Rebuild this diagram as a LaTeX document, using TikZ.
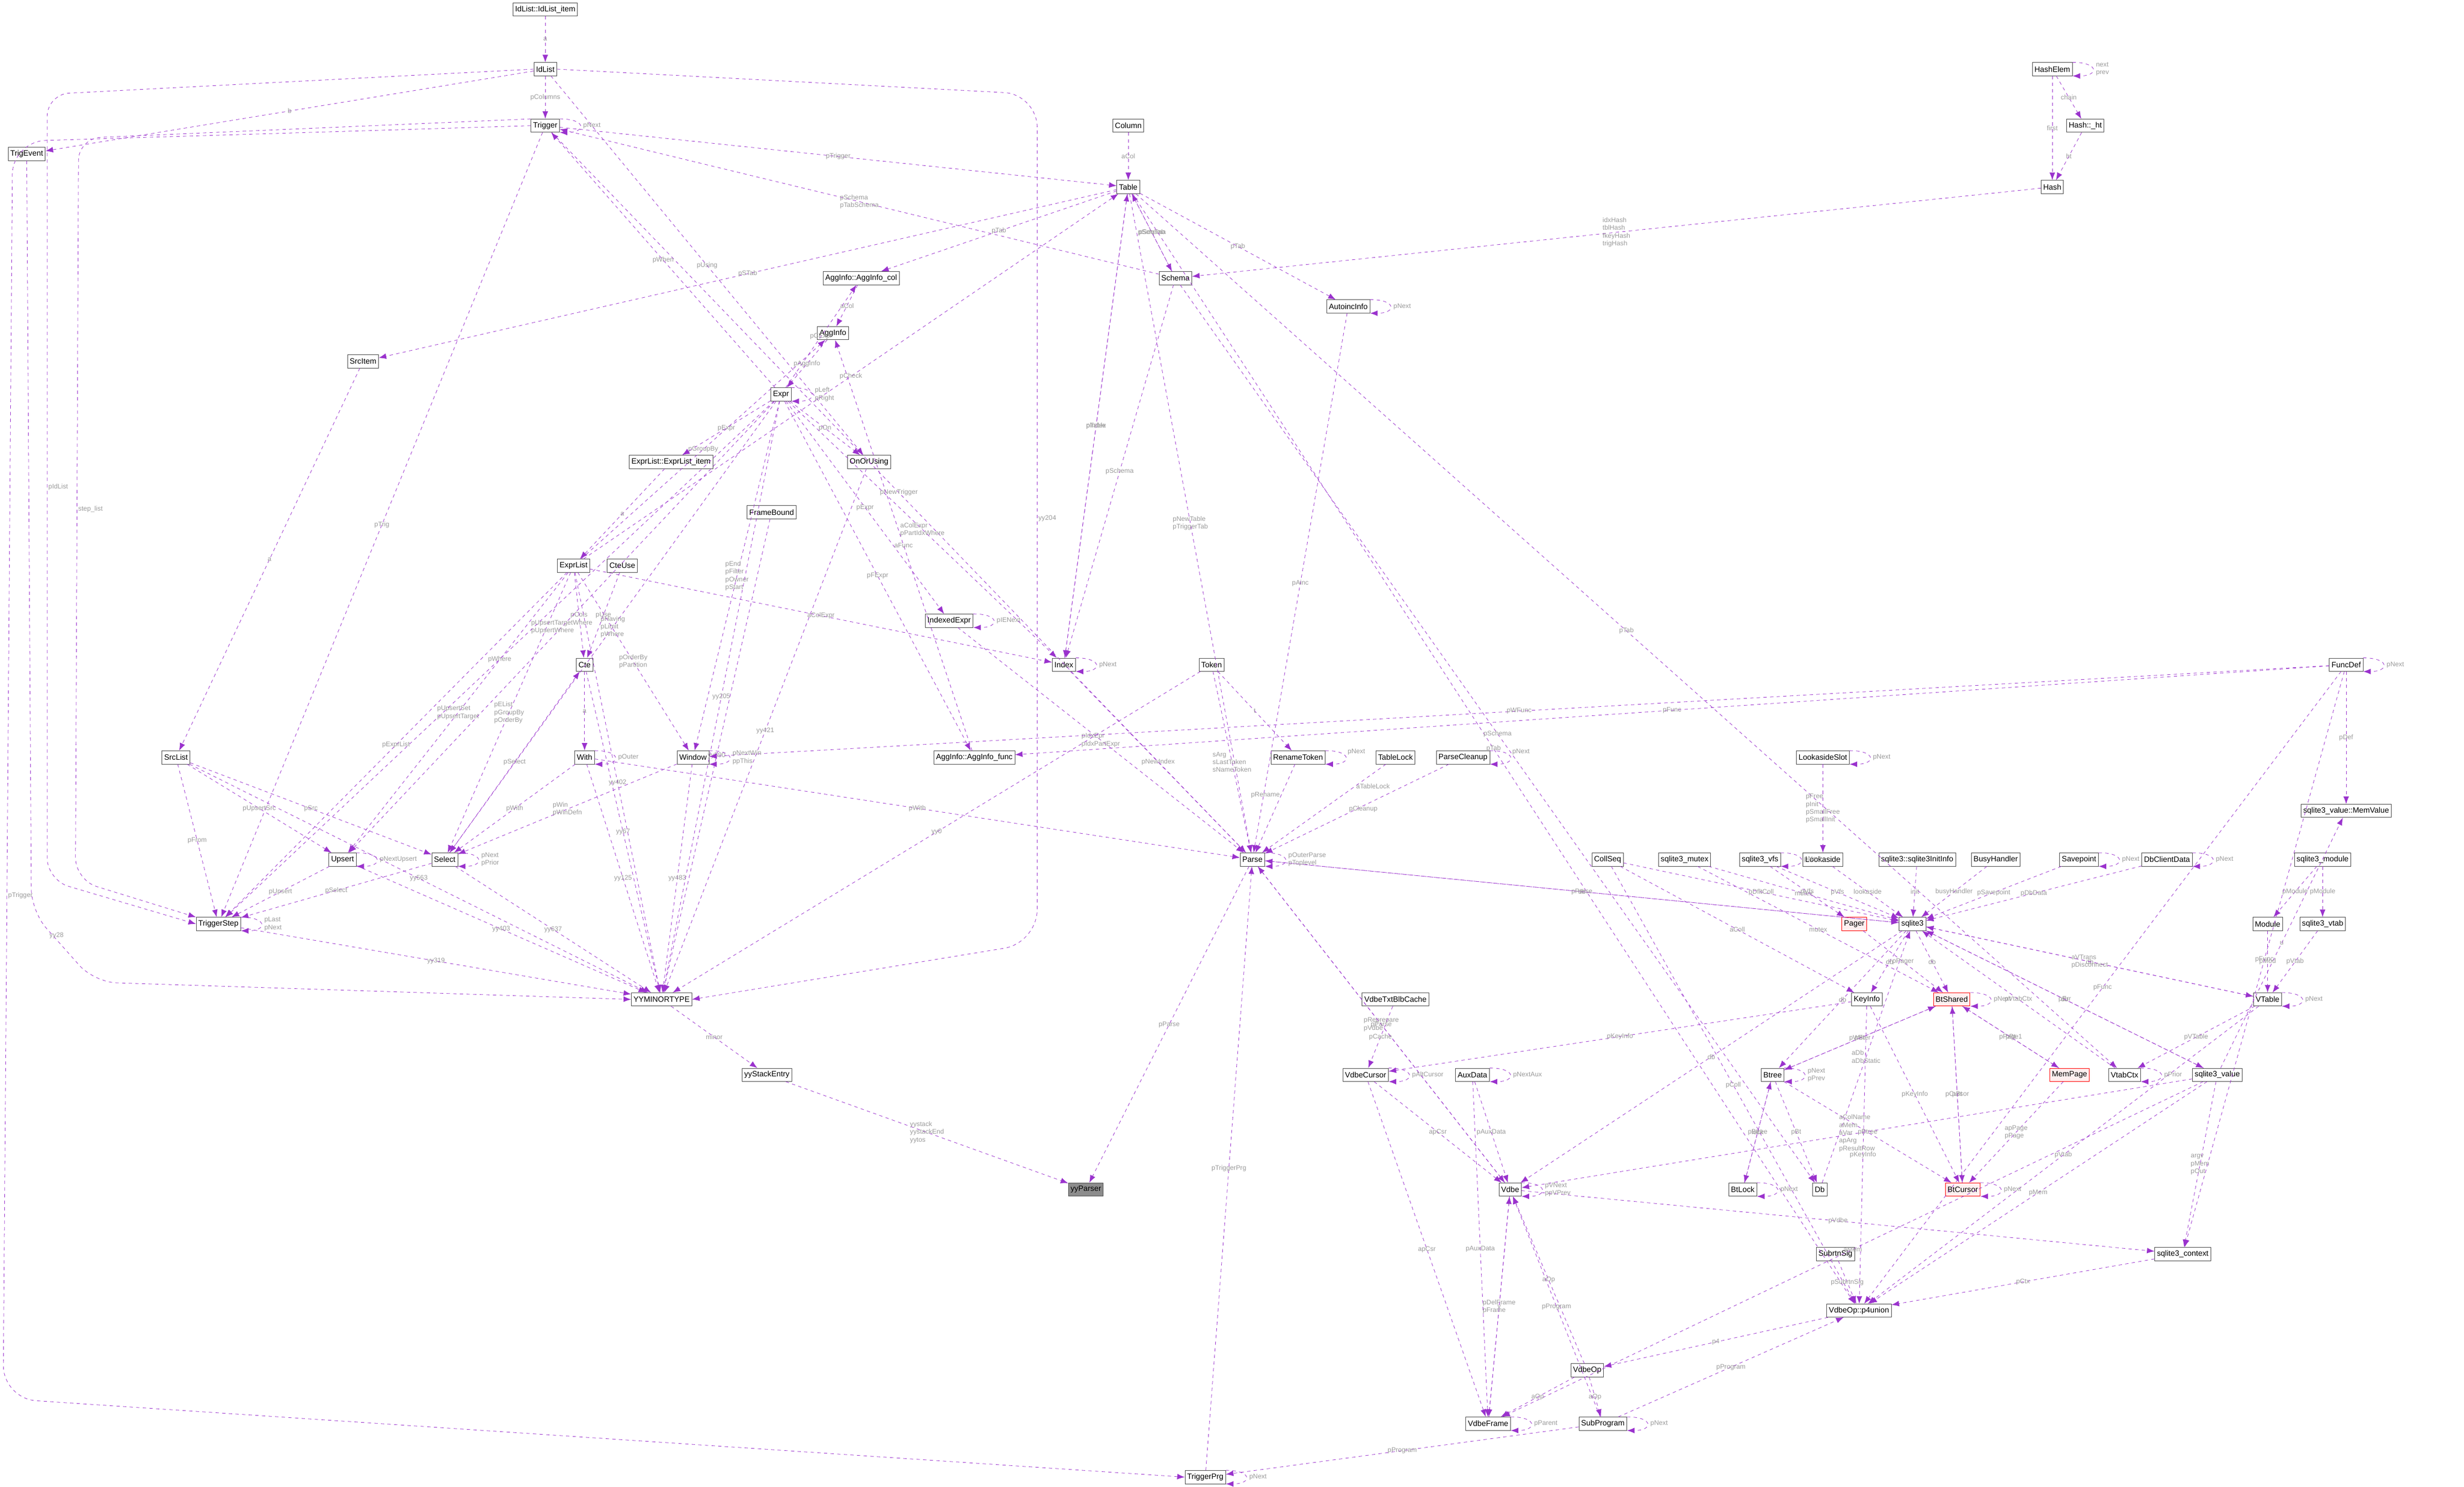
\documentclass[tikz,border=0pt]{standalone}
\usepackage{fontspec}
\setmainfont{Liberation Sans}
\usetikzlibrary{calc, arrows.meta}
\definecolor{collpurple}{HTML}{9A32CD}
\definecolor{labelgrey}{HTML}{9A9A9A}
\tikzstyle{cls} = [draw=black!70, fill=white, font=\fontsize{7}{8}\selectfont, inner sep=2pt, minimum height=0.42cm]
\tikzstyle{redcls} = [cls, draw=red, fill=red!6]
\tikzstyle{rootcls} = [cls, fill=black!45]
\tikzstyle{coll} = [collpurple, dashed, thin, -{Latex[length=2.4mm,width=1.8mm]}]
\tikzstyle{lbl} = [font=\fontsize{6}{7}\selectfont, text=labelgrey, align=left, inner sep=1pt]
\tikzstyle{selfloop} = [coll, out=0, in=0, looseness=5]

\begin{document}
\begin{tikzpicture}[x=0.05cm, y=-0.05cm]
 		\useasboundingbox (0,0) rectangle (1568,946);
 		% classes
 		\node[cls] (IdListItem) at (347,6) {IdList::IdList\_item};
 		\node[cls] (IdList) at (347,44) {IdList};
 		\node[cls] (Trigger) at (347,80) {Trigger};
 		\node[cls] (TrigEvent) at (17,98) {TrigEvent};
 		\node[cls] (Column) at (718,80) {Column};
 		\node[cls] (Table) at (718,119) {Table};
 		\node[cls] (HashElem) at (1306,44) {HashElem};
 		\node[cls] (HashHt) at (1327,80) {Hash::\_ht};
 		\node[cls] (Hash) at (1306,119) {Hash};
 		\node[cls] (Schema) at (748,177) {Schema};
 		\node[cls] (AggInfoCol) at (548,177) {AggInfo::AggInfo\_col};
 		\node[cls] (AutoincInfo) at (858,195) {AutoincInfo};
 		\node[cls] (SrcItem) at (231,230) {SrcItem};
 		\node[cls] (AggInfo) at (530,212) {AggInfo};
 		\node[cls] (Expr) at (497,251) {Expr};
 		\node[cls] (ExprListItem) at (427,294) {ExprList::ExprList\_item};
 		\node[cls] (OnOrUsing) at (553,294) {OnOrUsing};
 		\node[cls] (FrameBound) at (491,326) {FrameBound};
 		\node[cls] (ExprList) at (365,360) {ExprList};
 		\node[cls] (CteUse) at (396,360) {CteUse};
 		\node[cls] (IndexedExpr) at (604,395) {IndexedExpr};
 		\node[cls] (Index) at (677,423) {Index};
 		\node[cls] (Token) at (771,423) {Token};
 		\node[cls] (FuncDef) at (1493,423) {FuncDef};
 		\node[cls] (Cte) at (372,423) {Cte};
 		\node[cls] (SrcList) at (112,482) {SrcList};
 		\node[cls] (With) at (372,482) {With};
 		\node[cls] (Window) at (441,482) {Window};
 		\node[cls] (AggInfoFunc) at (620,482) {AggInfo::AggInfo\_func};
 		\node[cls] (RenameToken) at (826,482) {RenameToken};
 		\node[cls] (TableLock) at (888,482) {TableLock};
 		\node[cls] (ParseCleanup) at (931,482) {ParseCleanup};
 		\node[cls] (LookasideSlot) at (1160,482) {LookasideSlot};
 		\node[cls] (MemValue) at (1493,516) {sqlite3\_value::MemValue};
 		\node[cls] (Upsert) at (218,547) {Upsert};
 		\node[cls] (Select) at (283,547) {Select};
 		\node[cls] (Parse) at (797,547) {Parse};
 		\node[cls] (CollSeq) at (1023,547) {CollSeq};
 		\node[cls] (Mutex) at (1072,547) {sqlite3\_mutex};
 		\node[cls] (Vfs) at (1120,547) {sqlite3\_vfs};
 		\node[cls] (Lookaside) at (1160,547) {Lookaside};
 		\node[cls] (InitInfo) at (1220,547) {sqlite3::sqlite3InitInfo};
 		\node[cls] (BusyHandler) at (1270,547) {BusyHandler};
 		\node[cls] (Savepoint) at (1323,547) {Savepoint};
 		\node[cls] (DbClientData) at (1379,547) {DbClientData};
 		\node[cls] (Sqlite3Module) at (1478,547) {sqlite3\_module};
 		\node[cls] (TriggerStep) at (139,588) {TriggerStep};
 		\node[redcls] (Pager) at (1180,588) {Pager};
 		\node[cls] (Sqlite3) at (1217,588) {sqlite3};
 		\node[cls] (Module) at (1443,588) {Module};
 		\node[cls] (Sqlite3Vtab) at (1478,588) {sqlite3\_vtab};
 		\node[cls] (YYMinorType) at (421,636) {YYMINORTYPE};
 		\node[cls] (TxtBlbCache) at (888,636) {VdbeTxtBlbCache};
 		\node[cls] (KeyInfo) at (1188,636) {KeyInfo};
 		\node[redcls] (BtShared) at (1242,636) {BtShared};
 		\node[cls] (VTable) at (1443,636) {VTable};
 		\node[cls] (YYStackEntry) at (488,684) {yyStackEntry};
 		\node[cls] (VdbeCursor) at (869,684) {VdbeCursor};
 		\node[cls] (AuxData) at (937,684) {AuxData};
 		\node[cls] (Btree) at (1128,684) {Btree};
 		\node[redcls] (MemPage) at (1317,684) {MemPage};
 		\node[cls] (VtabCtx) at (1352,684) {VtabCtx};
 		\node[cls] (Sqlite3Value) at (1411,684) {sqlite3\_value};
 		\node[rootcls] (YYParser) at (691,757) {yyParser};
 		\node[cls] (Vdbe) at (961,757) {Vdbe};
 		\node[cls] (BtLock) at (1109,757) {BtLock};
 		\node[cls] (Db) at (1158,757) {Db};
 		\node[redcls] (BtCursor) at (1249,757) {BtCursor};
 		\node[cls] (Sqlite3Context) at (1389,798) {sqlite3\_context};
 		\node[cls] (SubrtnSig) at (1168,798) {SubrtnSig};
 		\node[cls] (P4Union) at (1183,834) {VdbeOp::p4union};
 		\node[cls] (VdbeOp) at (1010,872) {VdbeOp};
 		\node[cls] (VdbeFrame) at (947,906) {VdbeFrame};
 		\node[cls] (SubProgram) at (1020,906) {SubProgram};
 		\node[cls] (TriggerPrg) at (767,940) {TriggerPrg};
 		% collaboration links
 		\foreach \src/\dst/\txt in {
 			IdListItem/IdList/a, IdList/Trigger/pColumns, IdList/TrigEvent/b,
 			IdList/OnOrUsing/pUsing,
 			Trigger/Table/pTrigger, Trigger/TriggerStep/pTrig,
 			Trigger/Parse/pNewTrigger, Expr/Trigger/pWhen, Schema/Trigger/{pSchema\\pTabSchema},
 			Column/Table/aCol, Table/SrcItem/pSTab,
 			Table/Index/pTable, Index/Table/pIndex, Table/Schema/pSeqTab, Schema/Table/pSchema,
 			Table/AggInfoCol/pTab, Table/Parse/{pNewTable\\pTriggerTab}, Table/AutoincInfo/pTab,
 			Table/VtabCtx/pTab, Table/P4Union/pTab, ExprList/Table/pCheck,
 			Hash/Schema/{idxHash\\tblHash\\fkeyHash\\trigHash}, HashElem/Hash/first,
 			HashElem/HashHt/chain, HashHt/Hash/ht, Schema/Index/pSchema, Schema/Db/pSchema,
 			AutoincInfo/Parse/pAinc, AggInfoCol/AggInfo/aCol, Expr/AggInfoCol/pCExpr,
 			AggInfo/Expr/pAggInfo, ExprList/AggInfo/pGroupBy, Expr/ExprListItem/pExpr,
 			ExprListItem/ExprList/a, Expr/OnOrUsing/pOn, Expr/Window/{pEnd\\pFilter\\pOwner\\pStart},
 			Expr/IndexedExpr/pExpr, IndexedExpr/Parse/{pIdxEpr\\pIdxPartExpr},
 			Expr/AggInfoFunc/pFExpr, AggInfoFunc/AggInfo/aFunc, Expr/Index/{aColExpr\\pPartIdxWhere},
 			ExprList/Index/aColExpr, ExprList/Cte/pCols, CteUse/Cte/pUse, Cte/With/a,
 			With/Select/pWith, With/Parse/pWith, Select/Cte/pSelect, Select/TriggerStep/pSelect,
 			ExprList/Select/{pEList\\pGroupBy\\pOrderBy}, Expr/Select/{pHaving\\pLimit\\pWhere},
 			SrcList/Select/pSrc, Window/Select/{pWin\\pWinDefn}, ExprList/Window/{pOrderBy\\pPartition},
 			SrcItem/SrcList/a, SrcList/TriggerStep/pFrom, SrcList/Upsert/pUpsertSrc,
 			Upsert/TriggerStep/pUpsert, ExprList/Upsert/{pUpsertSet\\pUpsertTarget},
 			Expr/Upsert/{pUpsertTargetWhere\\pUpsertWhere}, ExprList/TriggerStep/pExprList,
 			Expr/TriggerStep/pWhere, TriggerStep/YYMinorType/yy319, Upsert/YYMinorType/yy403,
 			Select/YYMinorType/yy637, Cte/YYMinorType/yy67, With/YYMinorType/yy125,
 			Window/YYMinorType/yy483, Expr/YYMinorType/yy205, ExprList/YYMinorType/yy402,
 			SrcList/YYMinorType/yy563, Token/YYMinorType/yy0,
 			OnOrUsing/YYMinorType/yy421, FrameBound/YYMinorType/yy590,
 			YYMinorType/YYStackEntry/minor, YYStackEntry/YYParser/{yystack\\yystackEnd\\yytos},
 			Parse/YYParser/pParse, Token/Parse/{sArg\\sLastToken\\sNameToken}, Token/RenameToken/t,
 			Index/Parse/pNewIndex, Sqlite3/Parse/db, Parse/Sqlite3/pParse,
 			Vdbe/Parse/{pReprepare\\pVdbe}, Parse/Vdbe/pParse, TriggerPrg/Parse/pTriggerPrg,
 			FuncDef/Window/pWFunc, FuncDef/AggInfoFunc/pFunc,
 			CollSeq/Sqlite3/pDfltColl, Mutex/Sqlite3/mutex, Vfs/Sqlite3/pVfs,
 			Lookaside/Sqlite3/lookaside, LookasideSlot/Lookaside/{pFree\\pInit\\pSmallFree\\pSmallInit},
 			InitInfo/Sqlite3/init, BusyHandler/Sqlite3/busyHandler, Savepoint/Sqlite3/pSavepoint,
 			DbClientData/Sqlite3/pDbData, Db/Sqlite3/{aDb\\aDbStatic}, Sqlite3/Vdbe/db,
 			Sqlite3/BtShared/db, Sqlite3/KeyInfo/db, Sqlite3/Btree/db, Sqlite3/VTable/db,
 			VtabCtx/Sqlite3/pVtabCtx, Sqlite3/Sqlite3Value/db, VTable/Sqlite3/{aVTrans\\pDisconnect},
 			Sqlite3Value/Sqlite3/pErr, Pager/BtShared/pPager, Mutex/BtShared/mutex, Vfs/Pager/pVfs,
 			KeyInfo/VdbeCursor/pKeyInfo, KeyInfo/BtCursor/pKeyInfo, KeyInfo/P4Union/pKeyInfo,
 			CollSeq/KeyInfo/aColl, BtShared/Btree/pBt, BtShared/MemPage/pBt, MemPage/BtShared/pPage1,
 			BtShared/BtCursor/pBt, BtCursor/BtShared/pCursor, Btree/BtShared/pWriter,
 			Btree/BtLock/pBtree, BtLock/Btree/lock, Btree/Db/pBt, Btree/BtCursor/pBtree,
 			MemPage/BtCursor/{apPage\\pPage}, Module/VTable/pMod, Sqlite3Vtab/VTable/pVtab,
 			Sqlite3Module/Module/pModule, Sqlite3Module/Sqlite3Vtab/pModule, VTable/VtabCtx/pVTable,
 			Sqlite3Value/MemValue/u, FuncDef/MemValue/pDef, FuncDef/Sqlite3Context/pFunc,
 			FuncDef/P4Union/pFunc, Sqlite3Value/Sqlite3Context/{argv\\pMem\\pOut},
 			Sqlite3Value/Vdbe/{aColName\\aMem\\aVar\\apArg\\pResultRow}, Sqlite3Value/VdbeFrame/aMem,
 			Sqlite3Value/P4Union/pMem, Vdbe/Sqlite3Context/pVdbe, Sqlite3Context/P4Union/pCtx,
 			VTable/P4Union/pVtab, CollSeq/P4Union/pColl, SubrtnSig/P4Union/pSubrtnSig,
 			P4Union/VdbeOp/p4, SubProgram/P4Union/pProgram, TxtBlbCache/VdbeCursor/pCache,
 			VdbeCursor/Vdbe/apCsr, VdbeCursor/VdbeFrame/apCsr, AuxData/Vdbe/pAuxData,
 			AuxData/VdbeFrame/pAuxData, Vdbe/VdbeFrame/v, VdbeFrame/Vdbe/{pDelFrame\\pFrame},
 			VdbeOp/Vdbe/aOp, VdbeOp/VdbeFrame/aOp, VdbeOp/SubProgram/aOp, SubProgram/Vdbe/pProgram,
 			SubProgram/TriggerPrg/pProgram}
 			\draw[coll] (\src) -- node[lbl] {\txt} (\dst);
 		% links whose labels need their own place
 		\draw[coll] (RenameToken) -- node[lbl, left, pos=0.35] {pRename} (Parse);
 		\draw[coll] (TableLock) -- node[lbl, right, pos=0.25] {aTableLock} (Parse);
 		\draw[coll] (ParseCleanup) -- node[lbl, above right, pos=0.55] {pCleanup} (Parse);
 		% long links routed round the left side
 		\draw[coll, rounded corners=30pt] (Trigger.west) -- (8,90) -- node[lbl, right, pos=0.6] {pTrigger} (2,890) -- (TriggerPrg.west);
 		\draw[coll, rounded corners=20pt] (IdList.west) -- (30,60) -- node[lbl, right, pos=0.5] {pIdList} (30,560) -- (TriggerStep.west);
 		\draw[coll, rounded corners=20pt] (TrigEvent.south) -- (20,580) -- node[lbl, above, pos=0.4] {yy28} (60,625) -- (YYMinorType.west);
 		\draw[coll, rounded corners=20pt] (Trigger.north west) -- (50,88) -- node[lbl, right, pos=0.5] {step\_list} (48,560) -- (TriggerStep.north west);
 		\draw[coll, rounded corners=30pt] (IdList.east) -- (660,60) -- node[lbl, right, pos=0.5] {yy204} (660,600) -- (YYMinorType.east);
 		% self references
 		\foreach \self/\txt in {Trigger/pNext, HashElem/{next\\prev}, AutoincInfo/pNext,
 			Expr/{pLeft\\pRight}, IndexedExpr/pIENext, Index/pNext, With/pOuter,
 			Window/{pNextWin\\ppThis}, Select/{pNext\\pPrior}, Upsert/pNextUpsert,
 			TriggerStep/{pLast\\pNext}, Parse/{pOuterParse\\pToplevel},
 			LookasideSlot/pNext, Vfs/pNext, Savepoint/pNext,
 			DbClientData/pNext, FuncDef/pNext, BtShared/pNext, Btree/{pNext\\pPrev},
 			BtLock/pNext, BtCursor/pNext, VTable/pNext, VtabCtx/pPrior, VdbeCursor/pAltCursor,
 			AuxData/pNextAux, Vdbe/{pVNext\\ppVPrev}, VdbeFrame/pParent, SubProgram/pNext,
 			TriggerPrg/pNext}
 			\draw[selfloop] (\self.north east) to node[lbl, right=2pt] {\txt} (\self.south east);
 		\draw[selfloop] (RenameToken.north east) to node[lbl, above right=1pt] {pNext} (RenameToken.south east);
 		\draw[selfloop] (ParseCleanup.north east) to node[lbl, above right=1pt] {pNext} (ParseCleanup.south east);
\end{tikzpicture}
\end{document}
